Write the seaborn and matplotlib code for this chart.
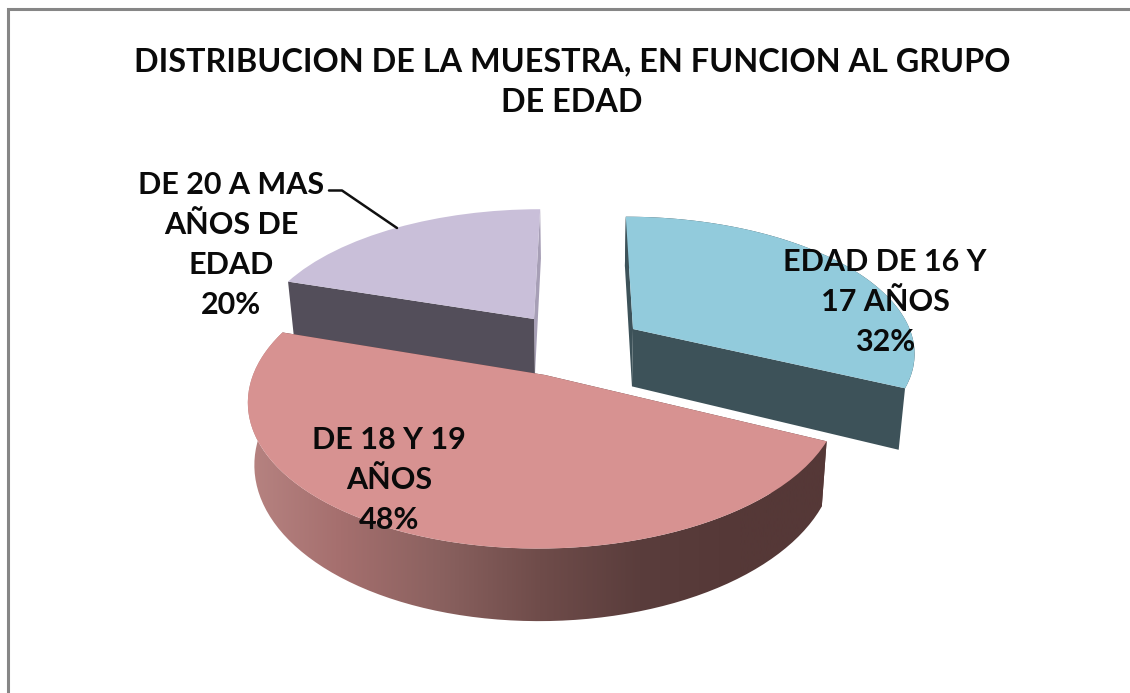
import numpy as np
import matplotlib
matplotlib.use("Agg")
import matplotlib.pyplot as plt
from matplotlib.colors import LinearSegmentedColormap
from matplotlib.patches import Polygon, PathPatch
from matplotlib.path import Path
from matplotlib.transforms import Transform
import seaborn as sns

# ---- data ----
title = "DISTRIBUCION DE LA MUESTRA, EN FUNCION AL GRUPO\nDE EDAD"
categories = ["EDAD DE 16 Y\n17 AÑOS", "DE 18 Y 19\nAÑOS", "DE 20 A MAS\nAÑOS DE\nEDAD"]
shares = [32, 48, 20]

# ---- style ----
top_colors = ["#92CBDC", "#D79291", "#C9BFD9"]
wall_colors = ["#3D5259", "#5E3D3D", "#534E5A"]
apex_px = [(633, 329), (545, 375), (534, 319)]
label_px = [(885, 302), (389, 480), (231, 245)]
CX, CY, R, H, K, D, BOT = 580.0, 345.0, 282.0, 135.0, 0.16, 58.5, 1.02
FONT = "Lato"
FS_TITLE = 23.3
FS_LABEL = 22

sns.set_theme(style="white")
plt.rcParams["font.family"] = [FONT, "DejaVu Sans"]


class Perspective(Transform):
    """Unit-disc plane -> pixel coordinates of the tilted pie."""
    input_dims = output_dims = 2
    is_separable = False
    has_inverse = False

    def transform_non_affine(self, v):
        v = np.asarray(v, dtype=float)
        w = 1 + K * v[:, 1]
        return np.column_stack([CX + R * v[:, 0] / w, CY - H * v[:, 1] / w])


def project(x, y, lower=False):
    w = 1 + K * np.asarray(y)
    if lower:
        return np.column_stack([CX + R * np.asarray(x) / (w * BOT),
                                CY - H * np.asarray(y) / w + D / w])
    return np.column_stack([CX + R * np.asarray(x) / w, CY - H * np.asarray(y) / w])


def unproject(sx, sy):
    a = CY - sy
    y = a / (H - K * a)
    return (sx - CX) * (1 + K * y) / R, y


fig, ax = plt.subplots(figsize=(11.3, 6.93), dpi=100)
fig.subplots_adjust(0, 0, 1, 1)
wedges, _ = ax.pie(shares, startangle=90, counterclock=False, colors=top_colors,
                   wedgeprops=dict(linewidth=0))
ax.set_aspect("auto")
ax.set_xlim(0, 1130)
ax.set_ylim(693, 0)
ax.set_frame_on(False)
ax.set_xticks([])
ax.set_yticks([])

persp = Perspective() + ax.transData
gradient = LinearSegmentedColormap.from_list(
    "wall", ["#B88583", "#A56F6E", "#8A615F", "#6F4C4A", "#5A3D3C", "#553837", "#553837"])

# back slices first, the front slice last
for order, i in zip([10, 20, 30], [2, 0, 1]):
    wedge = wedges[i]
    cx, cy = unproject(*apex_px[i])
    t = np.radians(np.linspace(wedge.theta1, wedge.theta2, 160))
    ax_x, ax_y = cx + np.cos(t), cy + np.sin(t)
    top_arc = project(ax_x, ax_y)
    low_arc = project(ax_x, ax_y, lower=True)
    a_top = project([cx], [cy])[0]
    a_low = project([cx], [cy], lower=True)[0]
    # cut faces
    for e in (0, -1):
        face = "#A79FB6" if (i == 2 and e == 0) else wall_colors[i]
        ax.add_patch(Polygon([a_top, top_arc[e], low_arc[e], a_low], closed=True,
                             fc=face, ec="none", zorder=order + (0.5 if e else 0)))
    # outer wall
    if i == 1:
        wall = np.vstack([top_arc, low_arc[::-1]])
        patch = PathPatch(Path(np.vstack([wall, wall[:1]])), fc="none", ec="none", zorder=order)
        ax.add_patch(patch)
        im = ax.imshow(np.linspace(0, 1, 256)[None, :], cmap=gradient, aspect="auto",
                       extent=(240, 840, 693, 0), zorder=order + 1, interpolation="bilinear")
        im.set_clip_path(patch)
    elif i == 0:
        # only the stretch near the outer corner shows: straight edge down to the corner
        wall = np.vstack([top_arc, low_arc[-1:]])
        ax.add_patch(Polygon(wall, closed=True, fc=wall_colors[i], ec="none", zorder=order))
    wedge.set_center((cx, cy))
    wedge.get_transform = lambda w=wedge: w.get_patch_transform() + persp
    wedge.set_zorder(order + 2)
    wedge.set_clip_on(False)

ax.set_xlim(0, 1130)
ax.set_ylim(693, 0)

# frame of the chart area
ax.plot([7.5, 7.5, 1130], [693, 8.5, 8.5], color="#868686", lw=2.2, zorder=40,
        solid_joinstyle="miter", clip_on=False)

ax.text(572, 82.5, title, ha="center", va="center", fontsize=FS_TITLE, fontweight="bold",
        color="#0A0A0A", linespacing=1.5, zorder=50)
for (x, y), cat, val in zip(label_px, categories, shares):
    ax.text(x, y, f"{cat}\n{val}%", ha="center", va="center", fontsize=FS_LABEL,
            fontweight="bold", color="#0A0A0A", linespacing=1.51, zorder=50)

# leader line of the smallest slice
ax.plot([329, 342, 397], [190.5, 190.5, 228], color="#101010", lw=1.8, zorder=45)

fig.savefig("out.png", dpi=100, facecolor="white")
